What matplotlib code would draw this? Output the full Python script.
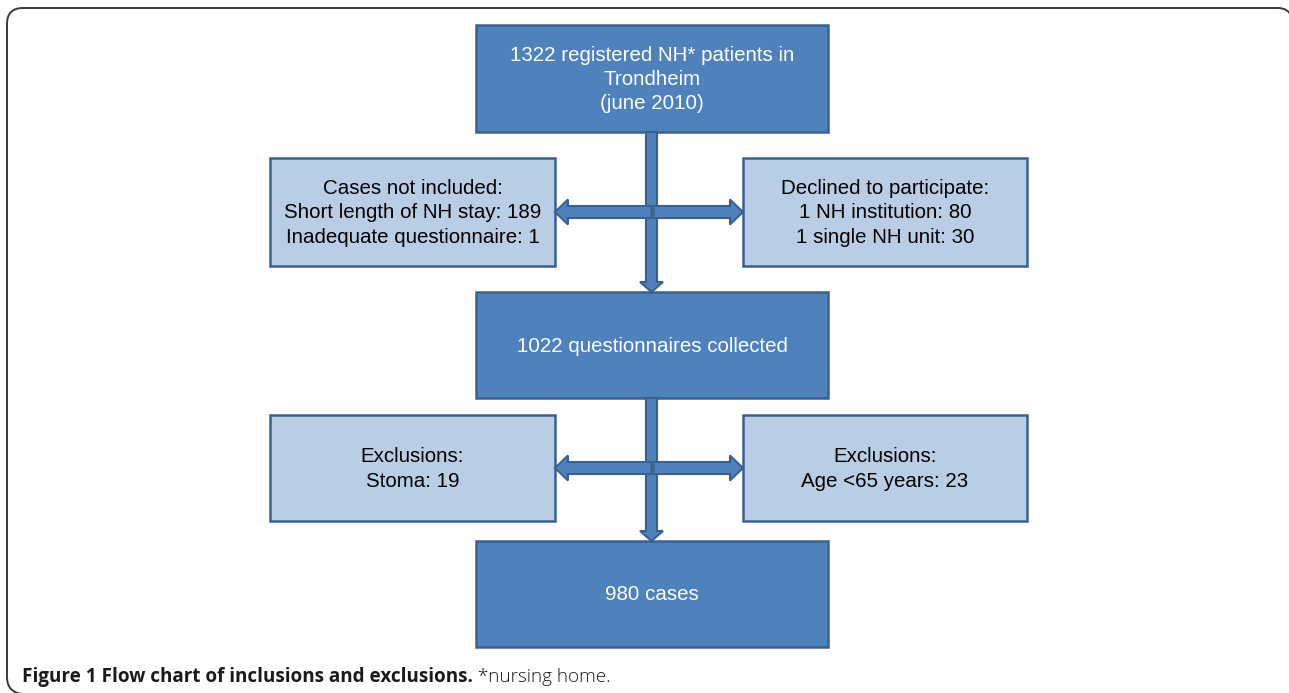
import matplotlib
matplotlib.use("Agg")
import matplotlib.pyplot as plt
from matplotlib.patches import Rectangle, FancyArrow, PathPatch
from matplotlib.path import Path

# ---- content ----
main_labels = [
    "1322 registered NH* patients in\nTrondheim\n(june 2010)",
    "1022 questionnaires collected",
    "980 cases",
]
side_left_labels = [
    "Cases not included:\nShort length of NH stay: 189\nInadequate questionnaire: 1",
    "Exclusions:\nStoma: 19",
]
side_right_labels = [
    "Declined to participate:\n1 NH institution: 80\n1 single NH unit: 30",
    "Exclusions:\nAge <65 years: 23",
]
caption_bold = "Figure 1 Flow chart of inclusions and exclusions."
caption_light = " *nursing home."

# ---- layout (pixel coordinates) ----
W, H = 1289, 693
main_x0, main_x1 = 476, 828
main_rows = [(25, 132), (292, 398), (541, 647)]
left_x0, left_x1 = 270, 555
right_x0, right_x1 = 743, 1027
side_rows = [(158, 266), (415, 521)]

dark_fill = "#4F81BD"
light_fill = "#B9CDE5"
edge = "#3A6090"

fig = plt.figure(figsize=(W / 100, H / 100), dpi=100)
ax = fig.add_axes([0, 0, 1, 1])
ax.set_xlim(0, W)
ax.set_ylim(H, 0)
ax.axis("off")

font = ["Liberation Sans", "DejaVu Sans"]
fs = 14.8
lsp = 1.36

# frame (open at the bottom / right like the clipped panel)
verts = [(22, 694), (7, 692), (7, 677),
         (7, 24),
         (7, 8), (23, 8),
         (1278, 8),
         (1289, 8), (1292, 18)]
codes = [Path.MOVETO, Path.CURVE3, Path.CURVE3,
         Path.LINETO,
         Path.CURVE3, Path.CURVE3,
         Path.LINETO,
         Path.CURVE3, Path.CURVE3]
ax.add_patch(PathPatch(Path(verts, codes), fc="none", ec="#3a3a3a", lw=1.4,
                       clip_on=False, zorder=0))

def box(x0, x1, y0, y1, fill, text, color):
    ax.add_patch(Rectangle((x0, y0), x1 - x0, y1 - y0, fc=fill, ec=edge, lw=1.8, zorder=2))
    ax.text((x0 + x1) / 2, (y0 + y1) / 2 + 1, text, ha="center", va="center", color=color,
            fontsize=fs, family=font, linespacing=lsp, zorder=5)

for (y0, y1), t in zip(main_rows, main_labels):
    box(main_x0, main_x1, y0, y1, dark_fill, t, "white")
for (y0, y1), t in zip(side_rows, side_left_labels):
    box(left_x0, left_x1, y0, y1, light_fill, t, "black")
for (y0, y1), t in zip(side_rows, side_right_labels):
    box(right_x0, right_x1, y0, y1, light_fill, t, "black")

cx = (main_x0 + main_x1) / 2 - 0.5
shaft = 11
head_w = 23
head_l = 10
for i in range(2):
    ytop = main_rows[i][1]
    ybot = main_rows[i + 1][0]
    ax.add_patch(FancyArrow(cx, ytop, 0, ybot - ytop, width=shaft, head_width=head_w,
                            head_length=head_l, length_includes_head=True,
                            fc=dark_fill, ec=edge, lw=1.5, zorder=3))
    ym = (side_rows[i][0] + side_rows[i][1]) / 2
    ax.add_patch(FancyArrow(cx, ym, left_x1 - cx, 0, width=12, head_width=25,
                            head_length=13, length_includes_head=True,
                            fc=dark_fill, ec=edge, lw=1.5, zorder=4))
    ax.add_patch(FancyArrow(cx + 2, ym, right_x0 - cx - 2, 0, width=12, head_width=25,
                            head_length=13, length_includes_head=True,
                            fc=dark_fill, ec=edge, lw=1.5, zorder=4))

# caption
capfont = ["Open Sans", "DejaVu Sans"]
cap_fs = 13.6
t1 = ax.text(22, 682, caption_bold, ha="left", va="baseline", fontsize=cap_fs,
             family=capfont, fontweight="bold", color="#1a1a1a")
fig.canvas.draw()
bb = t1.get_window_extent()
x_end = ax.transData.inverted().transform((bb.x1, bb.y0))[0]
ax.text(x_end, 682, caption_light, ha="left", va="baseline", fontsize=cap_fs,
        family=capfont, fontweight="light", color="#1a1a1a")

fig.savefig("out.png", dpi=100)
